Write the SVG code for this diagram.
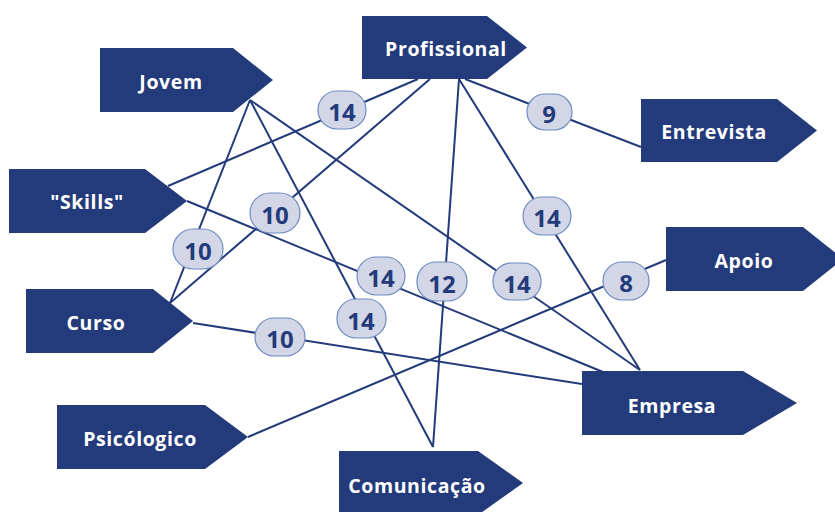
<svg xmlns="http://www.w3.org/2000/svg" width="835" height="512" viewBox="0 0 835 512">
<style>
.node{fill:#243B7B;}
.nt{font-family:"Open Sans","DejaVu Sans",sans-serif;font-weight:bold;font-size:19.5px;fill:#ffffff;text-anchor:middle;dominant-baseline:central;letter-spacing:0.6px;}
.edge{stroke:#243B7B;stroke-width:2;fill:none;}
.lb{fill:#D2D6E6;stroke:#6F8CC0;stroke-width:1.2;}
.lt{font-family:"Open Sans","DejaVu Sans",sans-serif;font-weight:bold;font-size:24px;fill:#243B7B;text-anchor:middle;dominant-baseline:central;}
</style>
<rect width="835" height="512" fill="#ffffff"/>
<g id="connectors">
<line class="edge" x1="250" y1="100" x2="170" y2="303"/>
<line class="edge" x1="250" y1="100" x2="433" y2="447"/>
<line class="edge" x1="250" y1="100" x2="640" y2="370"/>
<line class="edge" x1="418" y1="79" x2="168" y2="186"/>
<line class="edge" x1="430" y1="79" x2="170" y2="303"/>
<line class="edge" x1="459" y1="79" x2="433" y2="447"/>
<line class="edge" x1="459" y1="79" x2="640" y2="370"/>
<line class="edge" x1="465" y1="79" x2="641" y2="147"/>
<line class="edge" x1="187" y1="201" x2="603" y2="372"/>
<line class="edge" x1="193" y1="323" x2="582" y2="384"/>
<line class="edge" x1="666" y1="260" x2="248" y2="437"/>
</g>
<g id="node-jovem"><polygon class="node" points="100,48 233,48 273,80 233,112 100,112"/><text class="nt" x="171" y="81">Jovem</text></g>
<g id="node-profissional"><polygon class="node" points="362,16 487,16 527,47.5 487,79 362,79"/><text class="nt" x="446" y="48">Profissional</text></g>
<g id="node-skills"><polygon class="node" points="9,169 145,169 187,201 145,233 9,233"/><text class="nt" x="87" y="201">"Skills"</text></g>
<g id="node-entrevista"><polygon class="node" points="641,99 777,99 817,130.5 777,162 641,162"/><text class="nt" x="714" y="131">Entrevista</text></g>
<g id="node-apoio"><polygon class="node" points="666,227 803,227 843,259 803,291 666,291"/><text class="nt" x="744" y="260">Apoio</text></g>
<g id="node-curso"><polygon class="node" points="26,289 153,289 193,321 153,353 26,353"/><text class="nt" x="96" y="322">Curso</text></g>
<g id="node-psicologico"><polygon class="node" points="57,405 205,405 248,437 205,469 57,469"/><text class="nt" x="140" y="438">Psicólogico</text></g>
<g id="node-empresa"><polygon class="node" points="582,371 743,371 797,403 743,435 582,435"/><text class="nt" x="672" y="405">Empresa</text></g>
<g id="node-comunicacao"><polygon class="node" points="339,451 478,451 523,483 478,515 339,515"/><text class="nt" x="417" y="485">Comunicação</text></g>
<g id="edge-labels">
<rect class="lb" x="318" y="91" width="48" height="38" rx="19"/><text class="lt" x="342" y="111">14</text>
<rect class="lb" x="527" y="94" width="45" height="36" rx="18"/><text class="lt" x="549" y="113">9</text>
<rect class="lb" x="250" y="193" width="50" height="40" rx="20"/><text class="lt" x="275" y="214">10</text>
<rect class="lb" x="173" y="229" width="50" height="40" rx="20"/><text class="lt" x="198" y="250">10</text>
<rect class="lb" x="523" y="197" width="48" height="38" rx="19"/><text class="lt" x="547" y="217">14</text>
<rect class="lb" x="357" y="257" width="48" height="38" rx="19"/><text class="lt" x="381" y="277">14</text>
<rect class="lb" x="417" y="262" width="50" height="39" rx="19"/><text class="lt" x="442" y="283">12</text>
<rect class="lb" x="493" y="263" width="48" height="37" rx="18"/><text class="lt" x="517" y="283">14</text>
<rect class="lb" x="603" y="262" width="46" height="38" rx="19"/><text class="lt" x="626" y="282">8</text>
<rect class="lb" x="337" y="299" width="49" height="39" rx="19"/><text class="lt" x="361" y="320">14</text>
<rect class="lb" x="255" y="318" width="50" height="38" rx="19"/><text class="lt" x="280" y="338">10</text>
</g>
</svg>
